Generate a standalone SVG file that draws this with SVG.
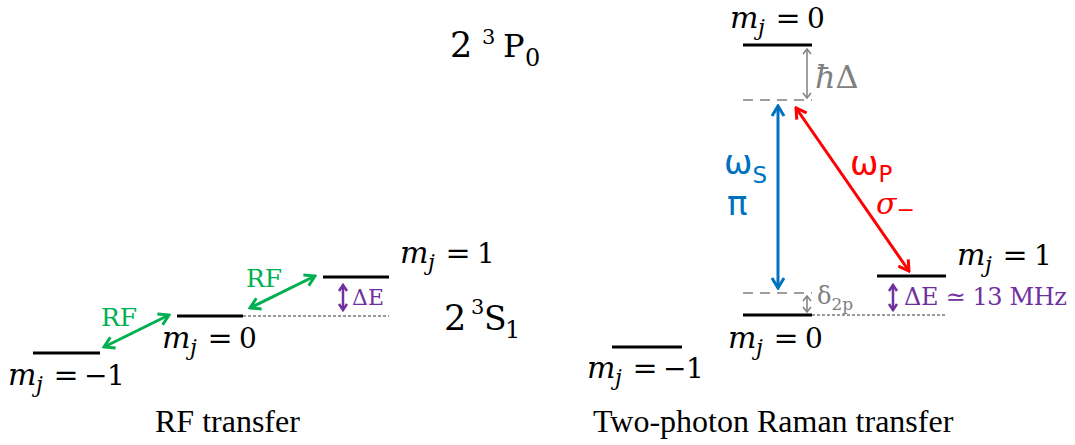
<svg xmlns="http://www.w3.org/2000/svg" width="1075" height="445" viewBox="0 0 1075 445">
<style>
.lvl{stroke:#000;stroke-width:3;fill:none}
.thin{stroke:#000;stroke-width:0.8;stroke-dasharray:3 2;fill:none}
.gdash{stroke:#7f7f7f;stroke-width:1.5;stroke-dasharray:10 7;fill:none}
.m{font-family:"DejaVu Serif",serif;font-style:italic;font-size:30px;fill:#000}
.j{font-family:"DejaVu Serif",serif;font-style:italic;font-size:22px;fill:#000}
.eq{font-family:"DejaVu Serif",serif;font-size:30px;fill:#000}
.dg{font-family:"DejaVu Serif",serif;font-size:28px;fill:#000}
.term{font-family:"DejaVu Serif",serif;fill:#000}
.cap{font-family:"Liberation Serif",serif;font-size:32px;fill:#000}
.rf{font-family:"DejaVu Serif",serif;font-size:25px;fill:#00b050}
.pur{font-family:"DejaVu Serif",serif;fill:#7030a0}
.gry{font-family:"DejaVu Serif",serif;fill:#7f7f7f}
.blu{font-family:"DejaVu Sans",sans-serif;fill:#0070c0}
.red{fill:#ff0000}
</style>
<defs>
<marker id="ag" viewBox="-12 -8 14 16" refX="0" refY="0" markerWidth="14" markerHeight="16" markerUnits="userSpaceOnUse" orient="auto-start-reverse"><path d="M-10,-6 L0,0 L-10,6" fill="none" stroke="#00b050" stroke-width="3"/></marker>
<marker id="ab" viewBox="-12 -8 14 16" refX="0" refY="0" markerWidth="14" markerHeight="16" markerUnits="userSpaceOnUse" orient="auto-start-reverse"><path d="M-10,-6 L0,0 L-10,6" fill="none" stroke="#0070c0" stroke-width="3"/></marker>
<marker id="ar" viewBox="-12 -8 14 16" refX="0" refY="0" markerWidth="14" markerHeight="16" markerUnits="userSpaceOnUse" orient="auto-start-reverse"><path d="M-10,-6 L0,0 L-10,6" fill="none" stroke="#ff0000" stroke-width="3"/></marker>
<marker id="ap" viewBox="-8 -6 10 12" refX="0" refY="0" markerWidth="10" markerHeight="12" markerUnits="userSpaceOnUse" orient="auto-start-reverse"><path d="M-6,-4 L0,0 L-6,4" fill="none" stroke="#7030a0" stroke-width="2.5"/></marker>
<marker id="ay" viewBox="-8 -6 10 12" refX="0" refY="0" markerWidth="10" markerHeight="12" markerUnits="userSpaceOnUse" orient="auto-start-reverse"><path d="M-5,-4 L0,0 L-5,4" fill="none" stroke="#7f7f7f" stroke-width="1.5"/></marker>
</defs>
<rect width="1075" height="445" fill="#fff"/>

<!-- Left: RF transfer -->
<g id="rf-mjm1">
<line class="lvl" x1="33" y1="353" x2="100" y2="353"/>
<g transform="translate(8,385)"><text class="m" x="0" y="0">m</text><text class="j" x="28" y="7">j</text><text class="eq" x="58" y="0" text-anchor="middle">=</text><text class="dg" x="76" y="0">−</text><text class="dg" x="99" y="0">1</text></g>
</g>
<g id="rf-mj0">
<line class="lvl" x1="177" y1="316" x2="243" y2="316"/>
<g transform="translate(162,348)"><text class="m" x="0" y="0">m</text><text class="j" x="28" y="7">j</text><text class="eq" x="58" y="0" text-anchor="middle">=</text><text class="dg" x="77" y="0">0</text></g>
</g>
<g id="rf-mj1">
<line class="lvl" x1="323" y1="277" x2="389" y2="277"/>
<g transform="translate(400,263)"><text class="m" x="0" y="0">m</text><text class="j" x="28" y="7">j</text><text class="eq" x="58" y="0" text-anchor="middle">=</text><text class="dg" x="77" y="0">1</text></g>
</g>
<g id="term-s1">
<text class="term" x="444" y="330" font-size="35">2</text>
<text class="term" x="471" y="314" font-size="21">3</text>
<text class="term" x="484" y="330" font-size="33">S</text>
<text class="term" x="505" y="338" font-size="24">1</text>
</g>
<g id="term-p0">
<text class="term" x="450" y="57" font-size="35">2</text>
<text class="term" x="482" y="44" font-size="21">3</text>
<text class="term" x="503" y="57" font-size="32">P</text>
<text class="term" x="525" y="66" font-size="24">0</text>
</g>
<g id="rf-de">
<text class="pur" x="352" y="305" font-size="22">ΔE</text>
</g>
<text class="rf" x="101" y="326">RF</text>
<text class="rf" x="246" y="287">RF</text>
<text class="cap" x="155" y="432">RF transfer</text>

<!-- Right: Raman transfer -->
<g id="r-top">
<line class="lvl" x1="743" y1="45" x2="812" y2="45"/>
<g transform="translate(730,28)"><text class="m" x="0" y="0">m</text><text class="j" x="28" y="7">j</text><text class="eq" x="58" y="0" text-anchor="middle">=</text><text class="dg" x="77" y="0">0</text></g>
</g>
<g id="r-virt">
<line class="gdash" x1="743" y1="100" x2="812" y2="100"/>
<text class="gry" x="815" y="88" font-size="32"><tspan font-style="italic">ħ</tspan>Δ</text>
</g>
<g id="r-mj1">
<line class="lvl" x1="877" y1="276" x2="946" y2="276"/>
<g transform="translate(957,265)"><text class="m" x="0" y="0">m</text><text class="j" x="28" y="7">j</text><text class="eq" x="58" y="0" text-anchor="middle">=</text><text class="dg" x="77" y="0">1</text></g>
</g>
<g id="r-virt2">
<line class="gdash" x1="743" y1="293" x2="812" y2="293"/>
<text class="gry" x="817" y="304" font-size="24">δ<tspan font-size="17" dy="6">2p</tspan></text>
</g>
<g id="r-mj0">
<line class="lvl" x1="743" y1="315" x2="812" y2="315"/>
<g transform="translate(728,348)"><text class="m" x="0" y="0">m</text><text class="j" x="28" y="7">j</text><text class="eq" x="58" y="0" text-anchor="middle">=</text><text class="dg" x="77" y="0">0</text></g>
</g>
<g id="r-mjm1">
<line class="lvl" x1="612" y1="347" x2="682" y2="347"/>
<g transform="translate(587,378)"><text class="m" x="0" y="0">m</text><text class="j" x="28" y="7">j</text><text class="eq" x="58" y="0" text-anchor="middle">=</text><text class="dg" x="76" y="0">−</text><text class="dg" x="99" y="0">1</text></g>
</g>
<g id="r-de">
<text class="pur" x="904" y="305" font-size="24" textLength="163">ΔE ≃ 13 MHz</text>
</g>
<g id="r-labels">
<text class="blu" x="724" y="174" font-size="34">ω<tspan font-size="23" dy="9">S</tspan></text>
<text class="blu" x="727" y="215" font-size="34">π</text>
<text class="blu red" x="850" y="175" font-size="34">ω<tspan font-size="23" dy="7">P</tspan></text>
<text class="red" x="876" y="214" font-size="30" font-family="DejaVu Serif, serif"><tspan font-style="italic">σ</tspan><tspan font-size="22" dy="3">−</tspan></text>
</g>
<text class="cap" x="593" y="432" font-size="32.5">Two-photon Raman transfer</text>

<g id="connectors">
<line x1="243" y1="316" x2="389" y2="316" class="thin"/>
<line x1="812" y1="315" x2="946" y2="315" class="thin"/>
<line x1="104" y1="347" x2="169" y2="315" stroke="#00b050" stroke-width="3" marker-start="url(#ag)" marker-end="url(#ag)"/>
<line x1="250" y1="308" x2="315" y2="276" stroke="#00b050" stroke-width="3" marker-start="url(#ag)" marker-end="url(#ag)"/>
<line x1="343" y1="285" x2="343" y2="310" stroke="#7030a0" stroke-width="2.5" marker-start="url(#ap)" marker-end="url(#ap)"/>
<line x1="893" y1="285" x2="893" y2="310" stroke="#7030a0" stroke-width="2.5" marker-start="url(#ap)" marker-end="url(#ap)"/>
<line x1="807" y1="49" x2="807" y2="98" stroke="#7f7f7f" stroke-width="1.5" marker-start="url(#ay)" marker-end="url(#ay)"/>
<line x1="807" y1="296" x2="807" y2="312" stroke="#7f7f7f" stroke-width="1.5" marker-start="url(#ay)" marker-end="url(#ay)"/>
<line x1="778" y1="106" x2="778" y2="288" stroke="#0070c0" stroke-width="3" marker-start="url(#ab)" marker-end="url(#ab)"/>
<line x1="796" y1="108" x2="909" y2="271" stroke="#ff0000" stroke-width="3" marker-start="url(#ar)" marker-end="url(#ar)"/>
</g>
</svg>
